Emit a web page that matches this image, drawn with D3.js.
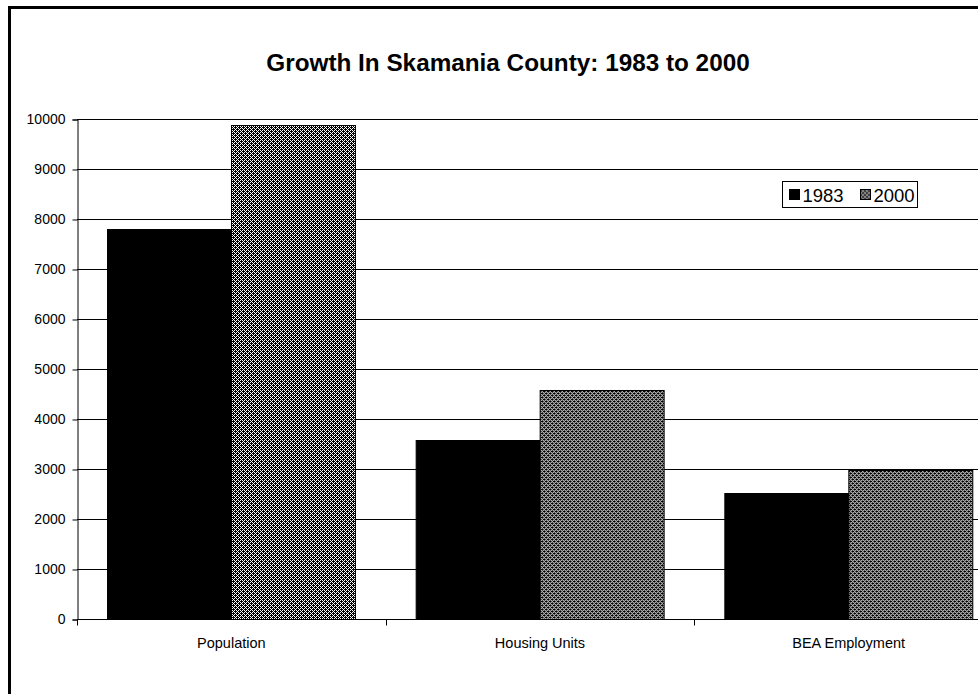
<!DOCTYPE html>
<html>
<head>
<meta charset="utf-8">
<script src="https://cdn.jsdelivr.net/npm/d3@7"></script>
<style>
  html, body { margin: 0; padding: 0; background: #fff; overflow: hidden; }
  svg { display: block; }
  text { font-family: Arial, "Liberation Sans", sans-serif; fill: #000; }
</style>
</head>
<body>
<svg id="chart" width="978" height="694"></svg>
<script>
// Growth in Skamania County, 1983 vs 2000
const categories = ["Population", "Housing Units", "BEA Employment"];
const seriesNames = ["1983", "2000"];
const values1983 = [7800, 3580, 2520];
const values2000 = [9880, 4570, 2980];
const yTicks = [0, 1000, 2000, 3000, 4000, 5000, 6000, 7000, 8000, 9000, 10000];
const titleText = "Growth In Skamania County: 1983 to 2000";

const seriesValues = { "1983": values1983, "2000": values2000 };

const svg = d3.select("#chart");
const W = 978, H = 694;

// fine checker hatch with an upward-diagonal bias for the 2000 series
const defs = svg.append("defs");
const pat = defs.append("pattern")
  .attr("id", "hatch")
  .attr("patternUnits", "userSpaceOnUse")
  .attr("width", 4).attr("height", 4);
pat.append("rect").attr("width", 4).attr("height", 4).attr("fill", "#fff");
for (let px = 0; px < 4; px++) {
  for (let py = 0; py < 4; py++) {
    const on = (px + py) % 2 === 0 || ((px + py) % 4 === 1 && px % 2 === 0);
    if (on) {
      pat.append("rect").attr("x", px).attr("y", py)
        .attr("width", 1).attr("height", 1).attr("fill", "#000");
    }
  }
}

// chart frame (extends past the page on the right and bottom)
svg.append("rect")
  .attr("x", 9.5).attr("y", 7.5)
  .attr("width", W + 40).attr("height", H + 40)
  .attr("fill", "none").attr("stroke", "#000").attr("stroke-width", 3);

// plot geometry
const plotLeft = 77, plotRight = 1003, plotTop = 119, plotBottom = 619;

const x0 = d3.scaleBand().domain(categories).range([plotLeft, plotRight]).padding(0);
const x1 = d3.scaleBand().domain(seriesNames).range([0, x0.bandwidth()])
  .paddingInner(0).paddingOuter(0.245);
const y = d3.scaleLinear().domain([0, 10000]).range([plotBottom, plotTop]);

// horizontal gridlines
svg.append("g").selectAll("line")
  .data(yTicks.filter(d => d > 0))
  .join("line")
  .attr("x1", plotLeft).attr("x2", plotRight)
  .attr("y1", d => Math.round(y(d)) + 0.5).attr("y2", d => Math.round(y(d)) + 0.5)
  .attr("stroke", "#000").attr("stroke-width", 1);

// bars
const groups = svg.append("g").selectAll("g")
  .data(categories)
  .join("g")
  .attr("transform", d => `translate(${x0(d)},0)`);

groups.selectAll("rect")
  .data((c, i) => seriesNames.map(s => ({ s, v: seriesValues[s][i] })))
  .join("rect")
  .attr("x", d => Math.round(x1(d.s)) + 0.5)
  .attr("y", d => Math.round(y(d.v)) + 0.5)
  .attr("width", x1.bandwidth())
  .attr("height", d => Math.round(y(0)) - Math.round(y(d.v)))
  .attr("fill", d => d.s === "1983" ? "#000" : "url(#hatch)")
  .attr("stroke", "#000").attr("stroke-width", 1);

// y axis
const yAxis = d3.axisLeft(y).tickValues(yTicks).tickSize(5).tickPadding(7)
  .tickFormat(d3.format("d"));
const gy = svg.append("g")
  .attr("transform", `translate(${plotLeft + 0.5},0.5)`)
  .call(yAxis);
gy.select(".domain").attr("stroke", "#000");
gy.selectAll(".tick line").attr("x2", -5).attr("stroke", "#000");
gy.selectAll(".tick text")
  .attr("font-size", 14).attr("font-family", "Arial, 'Liberation Sans', sans-serif");

// x axis: baseline with ticks at category boundaries
const gx = svg.append("g").attr("transform", `translate(0,${plotBottom + 0.5})`);
gx.append("line").attr("x1", plotLeft).attr("x2", plotRight)
  .attr("stroke", "#000");
gx.selectAll("line.tk")
  .data(categories.map(c => x0(c)).concat([plotRight]))
  .join("line").attr("class", "tk")
  .attr("x1", d => Math.round(d) + 0.5).attr("x2", d => Math.round(d) + 0.5)
  .attr("y1", 0).attr("y2", 6).attr("stroke", "#000");
gx.selectAll("text")
  .data(categories)
  .join("text")
  .attr("x", d => x0(d) + x0.bandwidth() / 2)
  .attr("y", 28)
  .attr("text-anchor", "middle")
  .attr("font-size", 14.5)
  .text(d => d);

// title
svg.append("text")
  .attr("x", 508).attr("y", 71)
  .attr("text-anchor", "middle")
  .attr("font-size", 24.3).attr("font-weight", "bold")
  .text(titleText);

// legend
const legend = svg.append("g").attr("transform", "translate(782.5,181.5)");
legend.append("rect").attr("width", 135).attr("height", 26)
  .attr("fill", "#fff").attr("stroke", "#000");
const legendItems = [
  { s: "1983", x: 7, fill: "#000" },
  { s: "2000", x: 78, fill: "url(#hatch)" }
];
const li = legend.selectAll("g.item").data(legendItems).join("g")
  .attr("class", "item")
  .attr("transform", d => `translate(${d.x},0)`);
li.append("rect").attr("x", 0).attr("y", 8).attr("width", 10).attr("height", 10)
  .attr("fill", d => d.fill).attr("stroke", "#000");
li.append("text").attr("x", 13).attr("y", 20)
  .attr("font-size", 18.5).text(d => d.s);
</script>
</body>
</html>
